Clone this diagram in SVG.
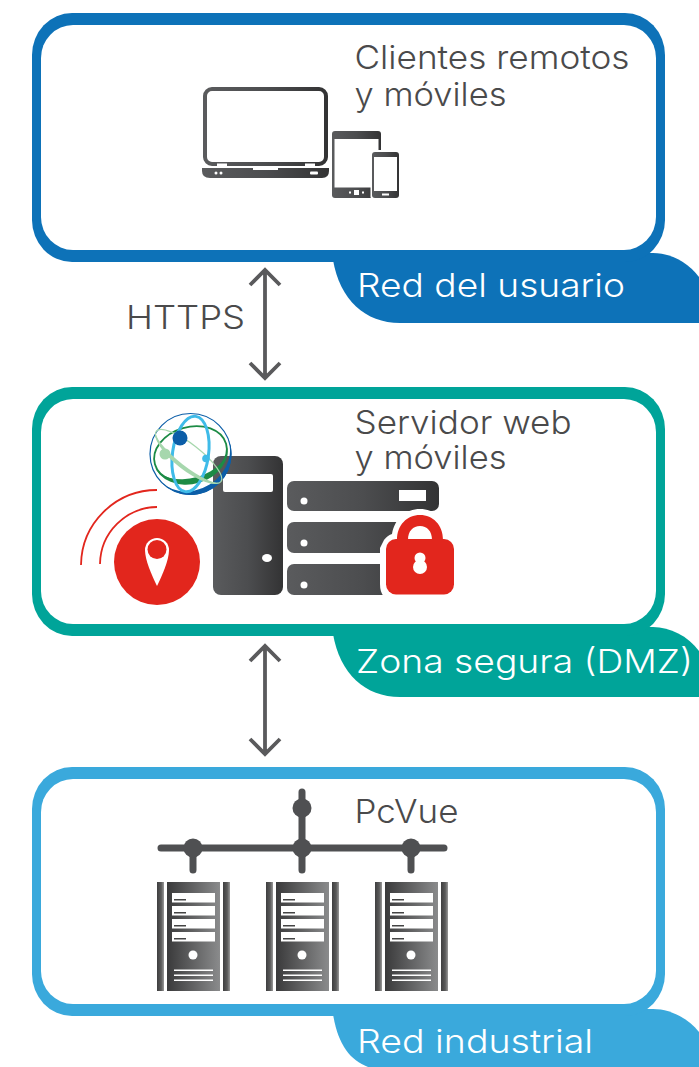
<svg xmlns="http://www.w3.org/2000/svg" width="699" height="1067" viewBox="0 0 699 1067">
<style>
.t{font-family:"Inter","Liberation Sans",sans-serif;font-weight:300;font-size:33px;fill:#4a4a4b}
.w{fill:#fff}
.inner{fill:#fff}
.arrow{fill:none;stroke:#5a5a5c;stroke-width:3.8}
</style>
<defs>
<linearGradient id="g" x1="0" x2="1" y1="0" y2="0"><stop offset="0" stop-color="#5a5b5d"/><stop offset=".5" stop-color="#4c4d4f"/><stop offset="1" stop-color="#333334"/></linearGradient>
<linearGradient id="g2" x1="0" x2="1" y1="0" y2="0"><stop offset="0" stop-color="#3a3a3b"/><stop offset="1" stop-color="#8a8b8c"/></linearGradient>
<linearGradient id="g3" x1="0" x2="1" y1="0" y2="0"><stop offset="0" stop-color="#3f3f40"/><stop offset=".6" stop-color="#5a5a5a"/><stop offset="1" stop-color="#999"/></linearGradient>
<g id="rack">
<rect x="-36" y="0" width="7" height="109" fill="url(#g3)"/>
<rect x="-26" y="0" width="53" height="109" fill="url(#g2)"/>
<rect x="30" y="0" width="7" height="109" fill="url(#g3)"/>
<g fill="#fff">
<rect x="-21" y="11" width="43" height="9.500"/><rect x="-21" y="24" width="43" height="9.500"/><rect x="-21" y="37" width="43" height="9.500"/><rect x="-21" y="50" width="43" height="9.500"/>
<circle cx="0" cy="73" r="4.500"/>
<rect x="-19" y="87.500" width="39" height="1.500"/><rect x="-19" y="92.500" width="39" height="1.500"/><rect x="-19" y="97.500" width="39" height="1.500"/>
</g>
<g fill="#444"><rect x="-19" y="17" width="12" height="1.500"/><rect x="-19" y="30" width="12" height="1.500"/><rect x="-19" y="43" width="12" height="1.500"/><rect x="-19" y="56" width="12" height="1.500"/></g>
</g>
</defs>

<g id="node-usuario">
<path d="M333 260C340 300 365 323 400 323H699V277C688 262 670 253 653 253H340Z" fill="#0d72b8"/>
<rect x="32" y="13" width="633" height="249" rx="40" ry="42" fill="#0d72b8"/>
<rect class="inner" x="41" y="25" width="615" height="225" rx="32" ry="33"/>
<text class="t w" x="357" y="297" textLength="268" lengthAdjust="spacingAndGlyphs">Red del usuario</text>
<text class="t" x="354.500" y="69" textLength="275" lengthAdjust="spacingAndGlyphs">Clientes remotos</text>
<text class="t" x="354.500" y="106" textLength="152" lengthAdjust="spacingAndGlyphs">y móviles</text>
<g id="devices">
<rect x="205" y="89" width="121" height="75" rx="7" fill="#fff" stroke="url(#g)" stroke-width="4"/>
<rect x="217" y="163.500" width="10" height="2.500" fill="#fff"/><rect x="305" y="163.500" width="10" height="2.500" fill="#fff"/>
<path d="M202 168H253V170H278V168H329V171Q329 178 322 178H210Q202 178 202 171Z" fill="url(#g)"/>
<circle cx="216" cy="173" r="1.500" fill="#fff"/><circle cx="221" cy="173" r="1.500" fill="#fff"/><rect x="310" y="171.500" width="8" height="3" rx="1" fill="#fff"/>
<rect x="332" y="131" width="49" height="67" rx="3" fill="url(#g)"/>
<rect x="334.500" y="139" width="44" height="48.500" fill="#fff"/>
<rect x="354" y="190" width="5" height="5" fill="#fff"/><rect x="349" y="191.500" width="2" height="2" fill="#fff"/><rect x="362" y="191.500" width="2" height="2" fill="#fff"/>
<rect x="370.500" y="150" width="30" height="49" rx="2" fill="#fff"/>
<rect x="372" y="152" width="27" height="46" rx="3" fill="url(#g)"/>
<rect x="374" y="157" width="23" height="34" fill="#fff"/>
<rect x="382" y="193.500" width="7" height="2" fill="#fff"/>
</g>
</g>

<g id="node-dmz">
<path d="M333 634C340 674 365 697 400 697H699V651C688 636 670 627 653 627H340Z" fill="#00a499"/>
<rect x="32" y="387" width="633" height="249" rx="40" ry="42" fill="#00a499"/>
<rect class="inner" x="41" y="399" width="615" height="225" rx="32" ry="33"/>
<text class="t w" x="356" y="673" textLength="337" lengthAdjust="spacingAndGlyphs">Zona segura (DMZ)</text>
<text class="t" x="354.500" y="434" textLength="217" lengthAdjust="spacingAndGlyphs">Servidor web</text>
<text class="t" x="354.500" y="469" textLength="152" lengthAdjust="spacingAndGlyphs">y móviles</text>
<g id="tower">
<rect x="213" y="456" width="70" height="139" rx="8" fill="url(#g)"/>
<rect x="223" y="474" width="50" height="18" rx="2" fill="#fff"/>
<ellipse cx="267" cy="558" rx="5" ry="4" fill="#fff"/>
</g>
<g id="globe" fill="none" transform="translate(190.500 454)">
<circle r="40.500" stroke="#0c5ea8" stroke-width="1.200"/>
<path d="M-41 0A41 41 0 0 0 41 0A41 36 0 0 1 -41 0Z" fill="#0c5ea8" transform="rotate(-32)"/>
<ellipse rx="37" ry="27" stroke="#1c8b45" stroke-width="1.800" transform="rotate(-16)"/>
<path d="M-38 0A38 30 0 0 0 38 0A38 24 0 0 1 -38 0Z" fill="#1c8b45" transform="rotate(-16)"/>
<ellipse rx="18" ry="38" stroke="#3fbbe8" stroke-width="3" transform="rotate(8)"/>
<ellipse cy="3" rx="41" ry="12" stroke="#a6d7ad" stroke-width="1.200" transform="rotate(38)"/>
<path d="M-41 3A41 14 0 0 0 41 3A41 10 0 0 1 -41 3Z" fill="#a6d7ad" transform="rotate(38)"/>
<circle cx="-10.500" cy="-16" r="7.500" fill="#0c5ea8"/>
<circle cx="-25.500" cy="0" r="5.500" fill="#a6d7ad"/>
<circle cx="15.500" cy="4.500" r="3.800" fill="#3fbbe8"/>
</g>
<g id="pin">
<path d="M81 565A76 76 0 0 1 157 490M100 564A58 58 0 0 1 157 507" fill="none" stroke="#e2261d" stroke-width="1.800"/>
<circle cx="157" cy="562" r="43" fill="#e2261d"/>
<path d="M145 550A12 12 0 0 1 169 550C169 560 162 576 157 586C152 576 145 560 145 550Z" fill="#fff"/>
<circle cx="157" cy="549.500" r="9.500" fill="#e2261d"/>
</g>
<g id="servers">
<rect x="287" y="481" width="152" height="30" rx="7" fill="url(#g)"/>
<rect x="399" y="490" width="27" height="11" fill="#fff"/><circle cx="304" cy="501" r="3.500" fill="#fff"/>
<rect x="287" y="522" width="152" height="31" rx="7" fill="url(#g)"/><circle cx="304" cy="543" r="3.500" fill="#fff"/>
<rect x="287" y="564" width="152" height="31" rx="7" fill="url(#g)"/><circle cx="304" cy="585" r="3.500" fill="#fff"/>
</g>
<g id="lock">
<path d="M384 540Q388 535 392 534C395 518 406 509 420 509C434 509 445 518 448 534L459 545V584Q459 600 443 600H394Q380 600 380 584V548Z" fill="#fff"/>
<path d="M397 540C397 525 407 515 420 515C433 515 443 525 443 540H432C432 531 427 526 420 526C413 526 408 531 408 540Z" fill="#e2261d"/>
<rect x="386" y="539" width="68" height="55.500" rx="10" fill="#e2261d"/>
<circle cx="420" cy="558" r="5.500" fill="#fff"/><circle cx="420" cy="567" r="7" fill="#fff"/>
</g>
</g>

<g id="node-industrial">
<path d="M333 1014C338 1045 350 1060 368 1067H699V1032C688 1018 670 1009 653 1009H340Z" fill="#3aa9dc"/>
<rect x="32" y="767" width="633" height="249" rx="40" ry="42" fill="#3aa9dc"/>
<rect class="inner" x="41" y="779" width="615" height="225" rx="32" ry="33"/>
<text class="t w" x="357" y="1053" textLength="236" lengthAdjust="spacingAndGlyphs">Red industrial</text>
<text class="t" x="354.500" y="823" textLength="104" lengthAdjust="spacingAndGlyphs">PcVue</text>
<g id="network">
<path d="M161 848H444M193 848V870M302 792V870M411 848V870" fill="none" stroke="#4f5052" stroke-width="7" stroke-linecap="round"/>
<circle cx="193" cy="848" r="9.500" fill="#4f5052"/><circle cx="302" cy="848" r="9.500" fill="#4f5052"/><circle cx="411" cy="848" r="9.500" fill="#4f5052"/><circle cx="302" cy="808" r="9.500" fill="#4f5052"/>
<use href="#rack" x="193" y="882"/><use href="#rack" x="302" y="882"/><use href="#rack" x="411" y="882"/>
</g>
</g>

<g id="connectors">
<path class="arrow" d="M265 270V378M250 285L265 270L280 285M250 363L265 378L280 363"/>
<path class="arrow" d="M265 646V754M250 661L265 646L280 661M250 739L265 754L280 739"/>
<text class="t" x="126" y="329" textLength="119" lengthAdjust="spacingAndGlyphs">HTTPS</text>
</g>
</svg>
